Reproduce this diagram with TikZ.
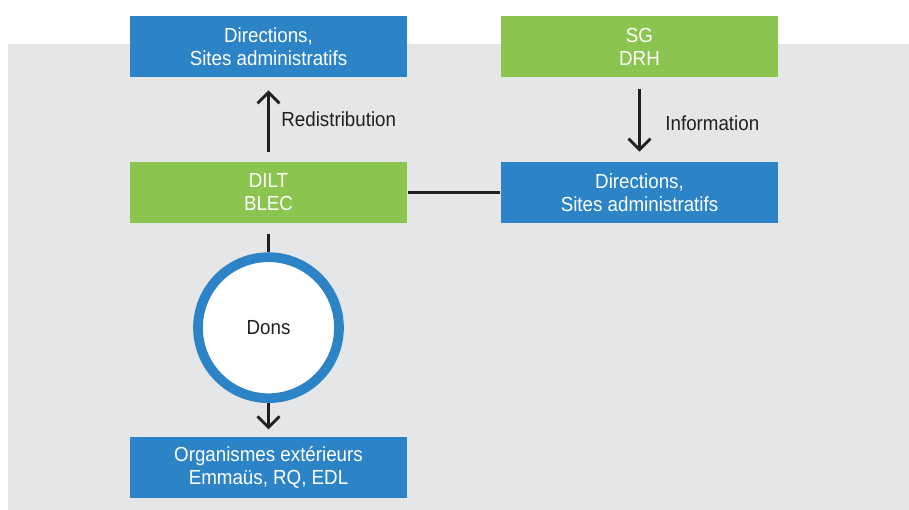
\documentclass[tikz,border=0pt]{standalone}
\usepackage{fontspec}
\setmainfont{Liberation Sans}[FakeStretch=0.92]
\usetikzlibrary{%
  arrows.meta,%
  shapes,%
  positioning% wg. " of "
}
\definecolor{dirblue}{HTML}{2C84C6}
\definecolor{dirgreen}{HTML}{8BC54F}
\definecolor{bggray}{HTML}{E5E6E8}
\definecolor{txtdark}{HTML}{231F20}

\begin{document}
\begin{tikzpicture}
[color=txtdark, line width=1.6pt, >={Straight Barb[length=2.2mm,width=4.4mm]},
entity/.style={rectangle, inner sep=0pt, minimum width=55.4mm, minimum height=12.2mm, text=white, align=center, font=\fontsize{11.6}{13}\selectfont},
service/.style={entity, fill=dirblue},
office/.style={entity, fill=dirgreen},
flowlabel/.style={anchor=west, inner sep=0pt, text=txtdark, font=\fontsize{11.6}{13}\selectfont},
donation/.style={circle, draw=dirblue, line width=5.5pt, fill=white, inner sep=0pt, minimum size=28.2mm, text=txtdark, font=\fontsize{11.6}{13}\selectfont}]

\useasboundingbox (0,0) rectangle (18.18,10.2);
\fill[bggray] (0.16,0) rectangle (18.18,9.32);

\node[service] (directions1) at (5.37,9.27) {Directions,\\Sites administratifs};
\node[office] (dilt) at (5.37,6.35) {DILT\\BLEC}
  edge [->, shorten <=1.8mm, shorten >=2.4mm] (directions1);
\node[flowlabel] (redistribution) at (5.6,7.82) {Redistribution};

\node[office] (sg) at (12.79,9.27) {SG\\DRH};
\node[service] (directions2) at (12.79,6.35) {Directions,\\Sites administratifs}
  edge [<-, shorten <=1.8mm, shorten >=2.2mm] (sg)
  edge [-] (dilt);
\node[flowlabel] (information) at (13.28,7.74) {Information};

\node[donation] (dons) at (5.37,3.646) {Dons}
  edge [-, shorten >=2mm] (dilt);
\node[service] (organismes) at (5.37,0.854) {Organismes extérieurs\\Emmaüs, RQ, EDL}
  edge [<-, shorten <=1.2mm] (dons);
\end{tikzpicture}
\end{document}
